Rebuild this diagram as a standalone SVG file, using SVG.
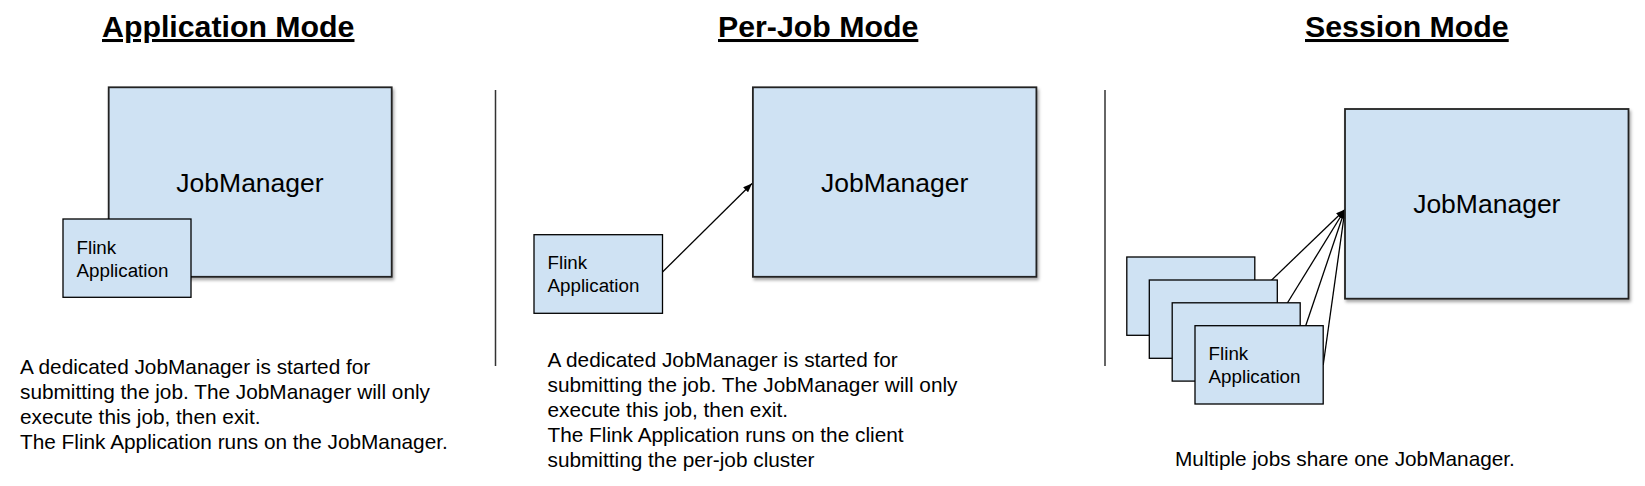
<svg xmlns="http://www.w3.org/2000/svg" width="1645" height="486" viewBox="0 0 1645 486">
<style>
text{font-family:"Liberation Sans",Arial,Helvetica,sans-serif;fill:#000}
.title{font-size:30.3px;font-weight:bold;text-decoration:underline}
.jm{font-size:26.5px;text-anchor:middle}
.small{font-size:18.8px}
.desc{font-size:20.8px}
.box{fill:#cfe2f3;stroke:#000;stroke-width:1.3}
.jmbox{fill:#cfe2f3;stroke:#222;stroke-width:1.8;filter:url(#sh)}
.div{stroke:#333;stroke-width:1.5}
.con{stroke:#000;stroke-width:1.3;fill:none;marker-end:url(#ah)}
</style>
<defs>
<filter id="sh" x="-5%" y="-5%" width="115%" height="115%">
<feDropShadow dx="1.5" dy="2.5" stdDeviation="1.5" flood-color="#000" flood-opacity="0.35"/>
</filter>
<marker id="ah" markerUnits="userSpaceOnUse" markerWidth="9" markerHeight="7" refX="9" refY="3.5" orient="auto">
<path d="M0,0 L9,3.5 L0,7 z" fill="#000"/>
</marker>
</defs>
<rect width="1645" height="486" fill="#fff"/>

<g id="titles">
<text class="title" x="102" y="37">Application Mode</text>
<text class="title" x="718" y="37">Per-Job Mode</text>
<text class="title" x="1305" y="37">Session Mode</text>
</g>

<g id="dividers">
<line class="div" x1="495.5" y1="90" x2="495.5" y2="366"/>
<line class="div" x1="1105" y1="90" x2="1105" y2="366"/>
</g>

<g id="connectors">
<line class="con" x1="662.5" y1="272" x2="752" y2="183.5"/>
<line class="con" x1="1255" y1="296" x2="1345" y2="209.5"/>
<line class="con" x1="1277.5" y1="319" x2="1345" y2="209.5"/>
<line class="con" x1="1300.2" y1="342" x2="1345" y2="209.5"/>
<line class="con" x1="1323.2" y1="365" x2="1345" y2="209.5"/>
</g>

<g id="app-jobmanager">
<rect class="jmbox" x="108.7" y="87.3" width="283" height="189.5"/>
<text class="jm" x="250" y="191.7">JobManager</text>
</g>
<g id="app-flink">
<rect class="box" x="63" y="219" width="128" height="78.3"/>
<text class="small" x="76.5" y="254">Flink</text>
<text class="small" x="76.5" y="277">Application</text>
</g>
<g id="app-desc">
<text class="desc" x="20" y="374">A dedicated JobManager is started for</text>
<text class="desc" x="20" y="399">submitting the job. The JobManager will only</text>
<text class="desc" x="20" y="424">execute this job, then exit.</text>
<text class="desc" x="20" y="449">The Flink Application runs on the JobManager.</text>
</g>

<g id="perjob-jobmanager">
<rect class="jmbox" x="752.9" y="87.3" width="283.5" height="189.5"/>
<text class="jm" x="894.6" y="191.7">JobManager</text>
</g>
<g id="perjob-flink">
<rect class="box" x="534" y="234.7" width="128.5" height="78.6"/>
<text class="small" x="547.5" y="269.3">Flink</text>
<text class="small" x="547.5" y="292.3">Application</text>
</g>
<g id="perjob-desc">
<text class="desc" x="547.5" y="367">A dedicated JobManager is started for</text>
<text class="desc" x="547.5" y="392">submitting the job. The JobManager will only</text>
<text class="desc" x="547.5" y="417">execute this job, then exit.</text>
<text class="desc" x="547.5" y="442">The Flink Application runs on the client</text>
<text class="desc" x="547.5" y="467">submitting the per-job cluster</text>
</g>

<g id="session-jobmanager">
<rect class="jmbox" x="1345" y="109" width="283.5" height="189.7"/>
<text class="jm" x="1486.8" y="213.3">JobManager</text>
</g>
<g id="session-app-1">
<rect class="box" x="1126.8" y="257" width="128" height="78.3"/>
</g>
<g id="session-app-2">
<rect class="box" x="1149.3" y="280" width="128" height="78.3"/>
</g>
<g id="session-app-3">
<rect class="box" x="1172.2" y="302.8" width="128" height="78.3"/>
</g>
<g id="session-app-4">
<rect class="box" x="1195" y="325.7" width="128.2" height="78.3"/>
<text class="small" x="1208.6" y="360">Flink</text>
<text class="small" x="1208.6" y="383.3">Application</text>
</g>
<g id="session-desc">
<text class="desc" x="1175" y="466">Multiple jobs share one JobManager.</text>
</g>
</svg>
